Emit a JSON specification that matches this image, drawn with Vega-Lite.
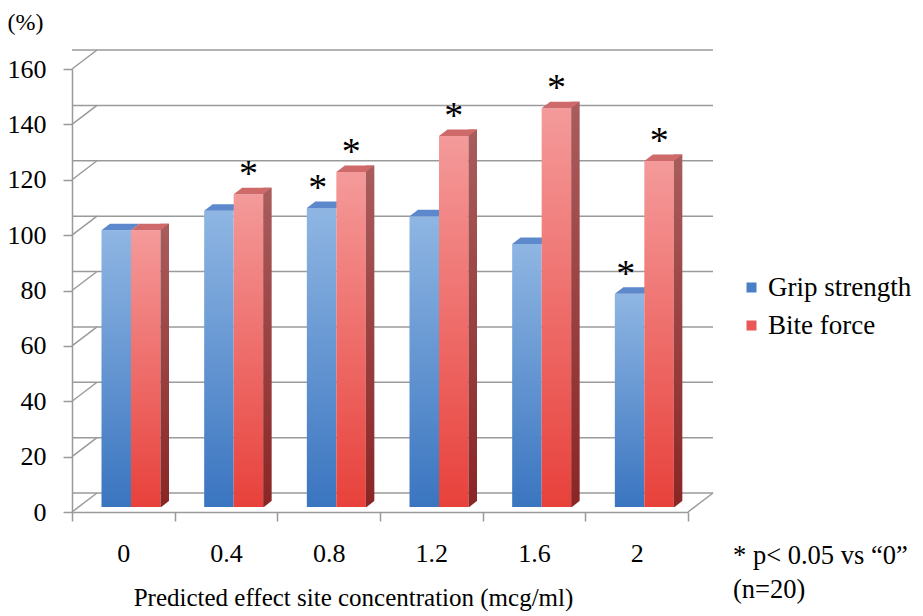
{
  "$schema": "https://vega.github.io/schema/vega-lite/v6.json",
  "width": 616,
  "height": 443,
  "autosize": "none",
  "padding": {"left": 72, "top": 69, "right": 235, "bottom": 104},
  "background": "white",
  "title": {
    "text": ["* p< 0.05 vs “0”", "\u00a0(n=20)"],
    "orient": "bottom",
    "anchor": "end",
    "align": "left",
    "frame": "group",
    "dx": 45,
    "offset": -67,
    "font": "Liberation Serif",
    "fontSize": 26.5,
    "fontWeight": "normal",
    "lineHeight": 34,
    "color": "black"
  },
  "datasets": {
    "bars": [
      {"c": "0", "s": "Grip strength", "v": 100, "star": ""},
      {"c": "0", "s": "Bite force", "v": 100, "star": ""},
      {"c": "0.4", "s": "Grip strength", "v": 107, "star": ""},
      {"c": "0.4", "s": "Bite force", "v": 113, "star": "*"},
      {"c": "0.8", "s": "Grip strength", "v": 108, "star": "*"},
      {"c": "0.8", "s": "Bite force", "v": 121, "star": "*"},
      {"c": "1.2", "s": "Grip strength", "v": 105, "star": ""},
      {"c": "1.2", "s": "Bite force", "v": 134, "star": "*"},
      {"c": "1.6", "s": "Grip strength", "v": 95, "star": ""},
      {"c": "1.6", "s": "Bite force", "v": 144, "star": "*"},
      {"c": "2", "s": "Grip strength", "v": 77, "star": "*"},
      {"c": "2", "s": "Bite force", "v": 125, "star": "*"}
    ],
    "grid": [
      {"g": 0}, {"g": 20}, {"g": 40}, {"g": 60}, {"g": 80},
      {"g": 100}, {"g": 120}, {"g": 140}, {"g": 160}
    ]
  },
  "data": {"name": "bars"},
  "encoding": {
    "x": {
      "field": "c",
      "type": "nominal",
      "sort": ["0", "0.4", "0.8", "1.2", "1.6", "2"],
      "scale": {"paddingInner": 0, "paddingOuter": 0},
      "axis": {
        "title": "Predicted effect site concentration (mcg/ml)",
        "titleX": 281,
        "titleY": 93,
        "titleAlign": "center",
        "titleBaseline": "alphabetic",
        "titleFont": "Liberation Serif",
        "titleFontSize": 25,
        "titleFontWeight": "normal",
        "titleColor": "black",
        "labelAngle": 0,
        "labelFont": "Liberation Serif",
        "labelFontSize": 26,
        "labelColor": "black",
        "labelPadding": 19,
        "tickBand": "extent",
        "tickSize": 9,
        "tickColor": "#9a9a9a",
        "tickWidth": 1.5,
        "domainColor": "#9a9a9a",
        "domainWidth": 1.5
      }
    },
    "y": {
      "field": "v",
      "type": "quantitative",
      "scale": {"domain": [0, 160], "nice": false},
      "axis": {
        "values": [0, 20, 40, 60, 80, 100, 120, 140, 160],
        "grid": false,
        "title": "(%)",
        "titleAngle": 0,
        "titleX": -65,
        "titleY": -47,
        "titleAlign": "left",
        "titleBaseline": "middle",
        "titleFont": "Liberation Serif",
        "titleFontSize": 24,
        "titleFontWeight": "normal",
        "titleColor": "black",
        "labelFont": "Liberation Serif",
        "labelFontSize": 26,
        "labelColor": "black",
        "labelPadding": 17,
        "tickSize": 9,
        "tickColor": "#9a9a9a",
        "tickWidth": 1.5,
        "domainColor": "#9a9a9a",
        "domainWidth": 1.5
      }
    }
  },
  "layer": [
    {
      "description": "back wall gridlines",
      "data": {"name": "grid"},
      "mark": {"type": "rule", "color": "#9a9a9a", "strokeWidth": 1.5, "xOffset": 25, "x2Offset": 25, "yOffset": -19, "y2Offset": -19},
      "encoding": {"x": null, "y": {"field": "g", "type": "quantitative"}}
    },
    {
      "description": "side wall diagonals from the value axis to the back wall",
      "data": {"name": "grid"},
      "mark": {"type": "point", "shape": "M0,0L25,-19", "size": 4, "filled": false, "opacity": 1, "stroke": "#9a9a9a", "strokeWidth": 1.5},
      "encoding": {
        "x": {"datum": "0", "bandPosition": 0},
        "y": {"field": "g", "type": "quantitative"}
      }
    },
    {
      "description": "right edge of the floor",
      "data": {"values": [{"g": 0}]},
      "mark": {"type": "point", "shape": "M0,0L25,-19", "size": 4, "filled": false, "opacity": 1, "stroke": "#9a9a9a", "strokeWidth": 1.5},
      "encoding": {
        "x": {"datum": "2", "bandPosition": 1},
        "y": {"field": "g", "type": "quantitative"}
      }
    },
    {
      "description": "grip strength front faces",
      "transform": [{"filter": "datum.s === 'Grip strength'"}],
      "mark": {
        "type": "bar", "width": 29.5, "xOffset": -7.08, "yOffset": -5, "y2Offset": -5,
        "color": {"gradient": "linear", "x1": 0, "y1": 0, "x2": 0, "y2": 1,
          "stops": [{"offset": 0, "color": "#8fb6e3"}, {"offset": 1, "color": "#3a75c0"}]}
      },
      "encoding": {"y2": {"datum": 0}}
    },
    {
      "description": "grip strength top faces",
      "transform": [{"filter": "datum.s === 'Grip strength'"}],
      "mark": {"type": "point", "shape": "M-21.83,0L7.67,0L16.17,-6.5L-13.33,-6.5Z", "size": 4, "filled": true, "opacity": 1, "color": "#5d89cc", "strokeWidth": 0, "yOffset": -5}
    },
    {
      "description": "bite force front faces",
      "transform": [{"filter": "datum.s === 'Bite force'"}],
      "mark": {
        "type": "bar", "width": 29.5, "xOffset": 22.42, "yOffset": -5, "y2Offset": -5,
        "color": {"gradient": "linear", "x1": 0, "y1": 0, "x2": 0, "y2": 1,
          "stops": [{"offset": 0, "color": "#f49a9a"}, {"offset": 1, "color": "#e8413b"}]}
      },
      "encoding": {"y2": {"datum": 0}}
    },
    {
      "description": "bite force side faces",
      "transform": [{"filter": "datum.s === 'Bite force'"}],
      "mark": {
        "type": "bar", "width": 8.5, "xOffset": 41.42, "yOffset": -11.5, "y2Offset": -5,
        "color": {"gradient": "linear", "x1": 0, "y1": 0, "x2": 0, "y2": 1,
          "stops": [{"offset": 0, "color": "#a95d5d"}, {"offset": 1, "color": "#8a2525"}]}
      },
      "encoding": {"y2": {"datum": 0}}
    },
    {
      "description": "slanted lower edge of the side faces",
      "transform": [{"filter": "datum.s === 'Bite force'"}],
      "mark": {"type": "point", "shape": "M37.3,0.4L46.2,0.4L46.2,-6.6Z", "size": 4, "filled": true, "opacity": 1, "color": "white", "strokeWidth": 0, "yOffset": -5},
      "encoding": {"y": {"datum": 0}}
    },
    {
      "description": "bite force top faces",
      "transform": [{"filter": "datum.s === 'Bite force'"}],
      "mark": {"type": "point", "shape": "M7.67,0L37.17,0L45.67,-6.5L16.17,-6.5Z", "size": 4, "filled": true, "opacity": 1, "color": "#cf6a6a", "strokeWidth": 0, "yOffset": -5}
    },
    {
      "description": "significance marks, grip strength",
      "transform": [{"filter": "datum.s === 'Grip strength'"}],
      "mark": {"type": "text", "font": "Liberation Serif", "fontSize": 38, "color": "black", "baseline": "alphabetic", "align": "center", "dx": -11, "dy": -13},
      "encoding": {"text": {"field": "star"}}
    },
    {
      "description": "significance marks, bite force",
      "transform": [{"filter": "datum.s === 'Bite force'"}],
      "mark": {"type": "text", "font": "Liberation Serif", "fontSize": 38, "color": "black", "baseline": "alphabetic", "align": "center", "dx": 22.5, "dy": -13},
      "encoding": {"text": {"field": "star"}}
    },
    {
      "description": "series key",
      "mark": {"type": "square", "opacity": 0},
      "encoding": {
        "color": {
          "field": "s",
          "type": "nominal",
          "scale": {"domain": ["Grip strength", "Bite force"], "range": ["#4a7fc6", "#ea5757"]},
          "legend": {
            "title": null,
            "orient": "none",
            "legendX": 666,
            "legendY": 205,
            "symbolType": "square",
            "symbolSize": 100,
            "symbolOpacity": 1,
            "symbolStrokeWidth": 0,
            "labelFont": "Liberation Serif",
            "labelFontSize": 27,
            "labelColor": "black",
            "labelOffset": 3,
            "rowPadding": 10,
            "padding": 0
          }
        }
      }
    }
  ],
  "config": {"view": {"stroke": null}}
}
